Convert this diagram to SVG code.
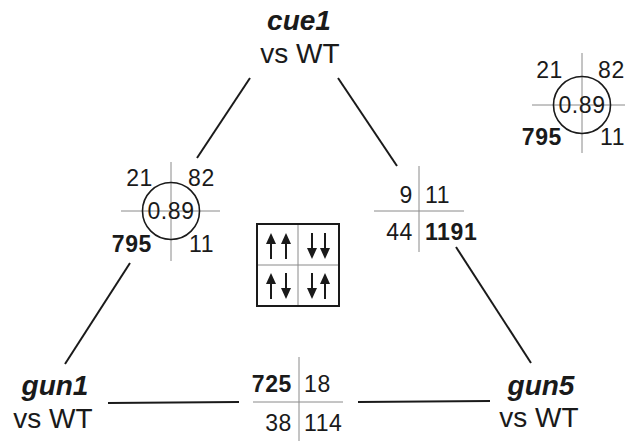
<svg xmlns="http://www.w3.org/2000/svg" width="629" height="443" viewBox="0 0 629 443">
  <style>
    .lbl { font-family: "Liberation Sans", Arial, sans-serif; font-size: 28px; fill: #1a1a1a; text-anchor: middle; }
    .gene { font-weight: bold; font-style: italic; }
    .num { font-family: "Liberation Sans", Arial, sans-serif; font-size: 23px; fill: #1a1a1a; letter-spacing: 0.6px; }
    .b { font-weight: bold; }
    .e { text-anchor: end; }
    .s { text-anchor: start; }
    .m { text-anchor: middle; }
    .grid { stroke: #8a8a8a; stroke-width: 1; fill: none; }
    .ring { stroke: #1a1a1a; stroke-width: 1.6; fill: none; }
    .conn { stroke: #1a1a1a; stroke-width: 2; fill: none; }
  </style>
  <defs>
    <g id="up">
      <path d="M0,0 L5,11 L-5,11 Z" fill="#1a1a1a"/>
      <line x1="0" y1="10" x2="0" y2="26" stroke="#1a1a1a" stroke-width="2"/>
    </g>
    <g id="dn">
      <path d="M0,26 L5,15 L-5,15 Z" fill="#1a1a1a"/>
      <line x1="0" y1="0" x2="0" y2="16" stroke="#1a1a1a" stroke-width="2"/>
    </g>
  </defs>
  <rect width="629" height="443" fill="#ffffff"/>

  <!-- connectors between the comparisons -->
  <g id="connectors">
    <line class="conn" x1="250" y1="78" x2="197" y2="158"/>
    <line class="conn" x1="338" y1="78" x2="397" y2="166"/>
    <line class="conn" x1="130" y1="263" x2="65" y2="364"/>
    <line class="conn" x1="456" y1="247" x2="531" y2="363"/>
    <line class="conn" x1="108" y1="403" x2="239" y2="402"/>
    <line class="conn" x1="358" y1="402" x2="490" y2="401"/>
  </g>

  <!-- comparison labels -->
  <g id="cue1">
    <text class="lbl gene" x="299" y="30">cue1</text>
    <text class="lbl" x="300" y="63">vs WT</text>
  </g>
  <g id="gun1">
    <text class="lbl gene" x="55" y="395">gun1</text>
    <text class="lbl" x="53" y="428">vs WT</text>
  </g>
  <g id="gun5">
    <text class="lbl gene" x="541" y="395">gun5</text>
    <text class="lbl" x="539" y="427">vs WT</text>
  </g>

  <!-- cue1 / gun1 quadrant table with correlation -->
  <g id="table-cue1-gun1">
    <line class="grid" x1="171" y1="162" x2="171" y2="261"/>
    <line class="grid" x1="121" y1="211" x2="220" y2="211"/>
    <circle cx="171" cy="211" r="28.5" fill="#ffffff" class="ring"/>
    <text class="num e" x="153" y="186">21</text>
    <text class="num s" x="188" y="186">82</text>
    <text class="num m" x="171" y="219">0.89</text>
    <text class="num b e" x="152" y="252">795</text>
    <text class="num s" x="189" y="252">11</text>
  </g>

  <!-- cue1 / gun5 quadrant table -->
  <g id="table-cue1-gun5">
    <line class="grid" x1="419" y1="166" x2="419" y2="252"/>
    <line class="grid" x1="374" y1="211" x2="464" y2="211"/>
    <text class="num e" x="413" y="203">9</text>
    <text class="num s" x="425" y="203">11</text>
    <text class="num e" x="413" y="240">44</text>
    <text class="num b s" x="425" y="240">1191</text>
  </g>

  <!-- gun1 / gun5 quadrant table -->
  <g id="table-gun1-gun5">
    <line class="grid" x1="299" y1="357" x2="299" y2="441"/>
    <line class="grid" x1="253" y1="402" x2="343" y2="402"/>
    <text class="num b e" x="292" y="392">725</text>
    <text class="num s" x="304" y="392">18</text>
    <text class="num e" x="292" y="431">38</text>
    <text class="num s" x="304" y="431">114</text>
  </g>

  <!-- example table in the corner -->
  <g id="key-table">
    <line class="grid" x1="582" y1="53" x2="582" y2="153"/>
    <line class="grid" x1="532" y1="105" x2="625" y2="105"/>
    <circle cx="582" cy="105" r="28.5" fill="#ffffff" class="ring"/>
    <text class="num e" x="563" y="78">21</text>
    <text class="num s" x="598" y="78">82</text>
    <text class="num m" x="582" y="113">0.89</text>
    <text class="num b e" x="562" y="145">795</text>
    <text class="num s" x="600" y="145">11</text>
  </g>

  <!-- quadrant legend: direction of change -->
  <g id="legend">
    <line class="grid" x1="298" y1="224" x2="298" y2="306"/>
    <line class="grid" x1="257" y1="265" x2="339" y2="265"/>
    <rect x="257" y="224" width="82" height="82" fill="none" stroke="#1a1a1a" stroke-width="2"/>
    <use href="#up" x="271" y="233"/>
    <use href="#up" x="286" y="233"/>
    <use href="#dn" x="312" y="233"/>
    <use href="#dn" x="325" y="233"/>
    <use href="#up" x="271" y="273"/>
    <use href="#dn" x="286" y="273"/>
    <use href="#dn" x="312" y="273"/>
    <use href="#up" x="325" y="273"/>
  </g>
</svg>
